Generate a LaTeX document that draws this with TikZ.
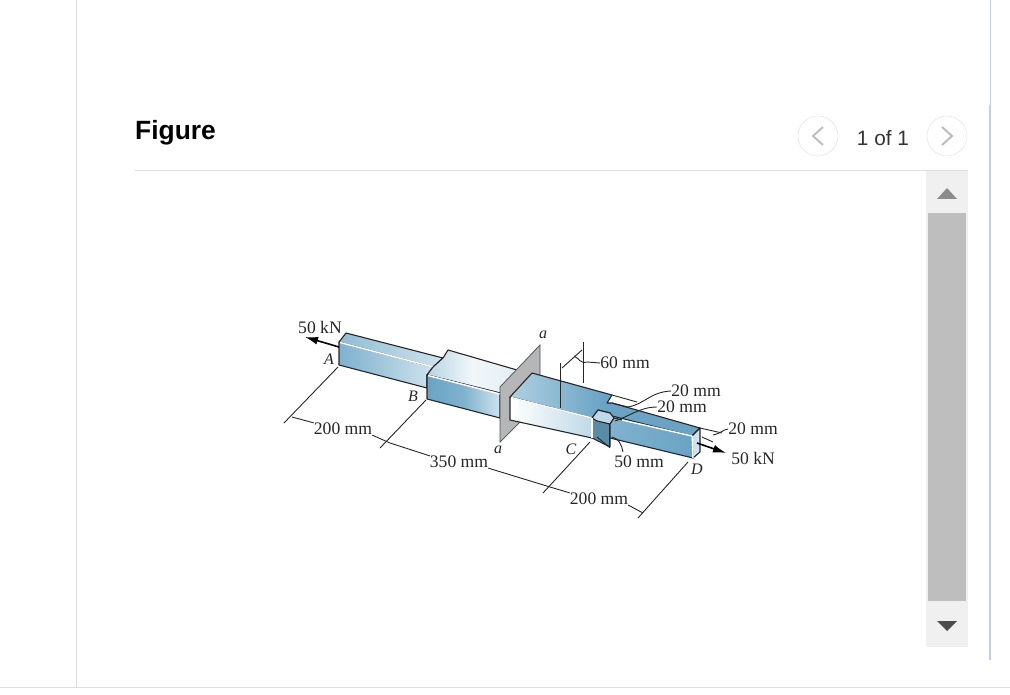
\documentclass[tikz,border=0pt]{standalone}
\usepackage{fontspec}
\setmainfont{Liberation Serif}
\newfontfamily\uifont{Liberation Sans}
\usepackage{tikz}
\usetikzlibrary{arrows.meta}
\definecolor{barblue}{HTML}{7FB2CE}
\definecolor{barpale}{HTML}{CFE3EE}
\definecolor{bardark}{HTML}{6AA3C4}
\definecolor{plategray}{HTML}{B4B6B8}
\definecolor{rulegray}{HTML}{DEDEDE}
\definecolor{trackgray}{HTML}{F0F0F0}
\definecolor{thumbgray}{HTML}{BEBEBE}
\definecolor{edgeblue}{HTML}{C3D0E0}
\definecolor{inkgray}{HTML}{262626}

\begin{document}
\begin{tikzpicture}[x=1pt,y=-1pt,
      edge/.style = {draw=black!85, line width=1.1pt, line join=round},
      dim/.style = {draw=inkgray, line width=0.9pt},
      glint/.style = {draw=white, line width=1.5pt},
      force/.style = {draw=black, line width=1.6pt, -{Latex[length=13pt,width=8pt]}},
      dimtext/.style = {text=inkgray, font=\fontsize{17.6}{18}\selectfont, inner sep=0pt},
      pttext/.style = {text=inkgray, font=\fontsize{16}{18}\selectfont\itshape, inner sep=0pt},
      navbtn/.style = {circle, draw=rulegray, fill=white, minimum size=40pt, inner sep=0pt},
      chev/.style = {draw=thumbgray, line width=2pt}]
  \useasboundingbox (0,0) rectangle (1010,695);

  % Page frame
  \draw[rulegray,line width=1pt] (76.5,0) -- (76.5,687);
  \draw[rulegray,line width=1pt] (0,687) -- (1010,687);
  \draw[edgeblue,line width=1pt] (990.5,0) -- (990.5,105);
  \draw[edgeblue,line width=2pt] (990,105) -- (990,660);
  \draw[rulegray,line width=1pt] (135,170.5) -- (968,170.5);

  % Header
  \node[anchor=west,inner sep=0pt,font=\uifont\bfseries\fontsize{26.4}{28}\selectfont] (title) at (135,133) {Figure};
  \node[navbtn] (prev) at (818,136) {};
  \node[navbtn] (next) at (947,136) {};
  \draw[chev] (823,127) -- (813,136) -- (823,145);
  \draw[chev] (942,127) -- (952,136) -- (942,145);
  \node[text=black!80,inner sep=0pt,font=\uifont\fontsize{20.8}{24}\selectfont] (pager) at (883,138) {1 of 1};

  % Scroll bar
  \fill[trackgray] (926,171) rectangle (968,647);
  \fill[thumbgray] (928,213) rectangle (966,601);
  \fill[black!45] (937,199) -- (957,199) -- (947,188) -- cycle;
  \fill[black!70] (937,621) -- (957,621) -- (947,631) -- cycle;

  % Part AB
  \shade[edge,left color=barblue,right color=barpale,middle color=barblue!70!white]
    (339,342) -- (433,367) -- (427,375) -- (427,388) -- (339,365) -- cycle;
  \shade[edge,left color=barblue!80!barpale,right color=barpale]
    (339,342) -- (346,333) -- (443,358) -- (433,367) -- cycle;
  \draw[glint] (340,342.5) -- (433,367);

  % Part BC behind the plate
  \shade[edge,left color=barpale!70!barblue,right color=barpale!60!white,middle color=white!70!barpale]
    (427,375) -- (433,367) -- (443,358) -- (448,350) -- (517,370) -- (500,393) -- cycle;
  \shade[edge,left color=bardark,right color=barpale,middle color=barblue]
    (427,375) -- (500,393) -- (500,418) -- (427,399) -- cycle;
  \draw[glint] (428,375.5) -- (500,394);

  % Plate a-a
  \fill[plategray,draw=black!70,line width=0.7pt]
    (500,387) -- (540,345) -- (540,402) -- (500,442) -- cycle;

  % Part CD, wide end and narrow end
  \shade[edge,left color=barpale!60!barblue,right color=bardark,middle color=bardark]
    (510,397) -- (532,373) -- (612,395) -- (607,403) -- (612,403) -- (700,428) -- (692,436)
    -- (612,416) -- (610,413) -- (598,410) -- (592,418) -- cycle;
  \shade[edge,left color=white,right color=barpale!80!barblue]
    (510,397) -- (592,418) -- (592,438) -- (510,420) -- cycle;
  \draw[glint] (511,397.5) -- (592,418);
  \fill[edge,fill=bardark!85!black] (592,418) -- (610,424) -- (610,447) -- (592,438) -- cycle;
  \fill[edge,fill=barpale!80!barblue] (592,418) -- (598,410) -- (610,413) -- (614,418) -- (610,424) -- (597,421) -- cycle;
  \shade[edge,left color=barblue,right color=bardark]
    (610,424) -- (614,418) -- (692,436) -- (693,458) -- (610,438) -- cycle;
  \fill[edge,fill=barpale] (692,436) -- (700,428) -- (700,452) -- (693,458) -- cycle;
  \draw[glint] (622,420) -- (692,436);
  \draw[glint] (692,436) -- (693,458);
  \draw[glint] (592,418) -- (592,438);

  % Width marks on the bar
  \coordinate (w1) at (560,363);
  \coordinate (w2) at (560,408);
  \coordinate (w3) at (583,342);
  \coordinate (w4) at (583,383);
  \draw[dim] (w1) -- (w2);
  \draw[dim] (w3) -- (w4);
  \draw[dim] (562,368) -- (582,350);

  % Nodes for the text
  \node[dimtext] (loadA) at (320,327) {50 kN};
  \node[dimtext] (lenAB) at (343,429) {200 mm};
  \node[dimtext] (lenBC) at (459,462) {350 mm};
  \node[dimtext] (lenCD) at (599,499) {200 mm};
  \node[dimtext] (wide) at (625,363) {60 mm};
  \node[dimtext] (thickA) at (696,391) {20 mm};
  \node[dimtext] (thickB) at (682,407) {20 mm};
  \node[dimtext] (thickC) at (753,429) {20 mm};
  \node[dimtext] (notch) at (639,462) {50 mm};
  \node[dimtext] (loadD) at (753,458) {50 kN};
  \node[pttext] (ptA) at (329,359) {A};
  \node[pttext] (ptB) at (413,396) {B};
  \node[pttext] (ptC) at (571,449) {C};
  \node[pttext] (ptD) at (697,469) {D};
  \node[pttext] (aTop) at (543,335) {a};
  \node[pttext] (aLow) at (498,450) {a};

  % Loads
  \draw[force] (339,347) -- (305,337);
  \draw[force] (697,443) -- (726,453);

  % Length dimensions
  \draw[dim] (338,367) -- (284,423);
  \draw[dim] (426,400) -- (380,448);
  \draw[dim] (590,442) -- (543,493);
  \draw[dim] (688,462) -- (638,518);
  \draw[dim] (292,417) -- (lenAB.north west);
  \draw[dim] (lenAB.south east) -- (390,443) -- (lenBC.north west);
  \draw[dim] (lenBC.south east) -- (550,487) -- (lenCD.north west);
  \draw[dim] (lenCD.south east) -- (643,513);

  % Leaders and small extensions
  \draw[dim] (wide.west) -- (587,362) .. controls (580,364) and (579,358) .. (574,356);
  \draw[dim] (612,395) -- (637,402);
  \draw[dim] (612,403) -- (628,407);
  \draw[dim] (thickA.west) .. controls (650,392) and (645,404) .. (628,407);
  \draw[dim] (thickB.west) .. controls (640,407) and (630,416) .. (615,421);
  \draw[dim] (700,428) -- (722,433);
  \draw[dim] (702,437) -- (713,442);
  \draw[dim] (thickC.west) .. controls (722,430) and (722,433) .. (713,435);
  \draw[dim] (609,425) -- (609,448);
  \draw[dim] (597,437) -- (609,447);
  \draw[dim] (623,452) .. controls (622,445) and (618,438) .. (612,437);

\end{tikzpicture}
\end{document}
